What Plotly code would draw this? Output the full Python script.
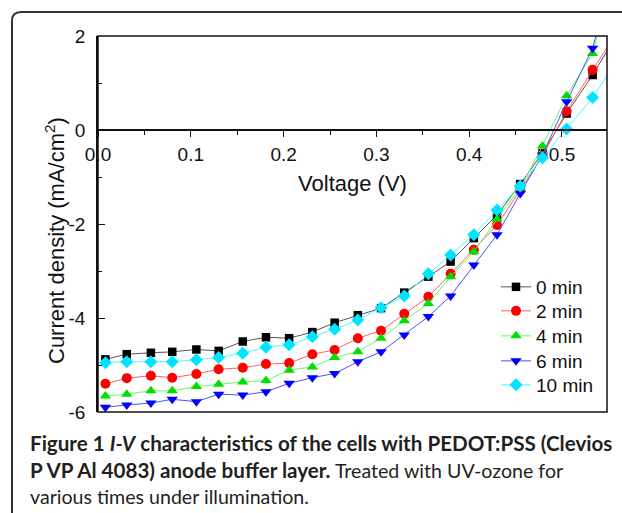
import plotly.graph_objects as go

# ---- data ----
voltage = [0.008, 0.031, 0.057, 0.080, 0.106, 0.130, 0.156, 0.181, 0.206, 0.231,
           0.255, 0.280, 0.305, 0.330, 0.356, 0.380, 0.405, 0.430, 0.455, 0.479,
           0.505, 0.533, 0.558]

j_0min = [-4.88, -4.77, -4.74, -4.72, -4.67, -4.70, -4.50, -4.41, -4.43, -4.30,
          -4.10, -3.94, -3.79, -3.46, -3.12, -2.80, -2.30, -1.81, -1.15, -0.49,
          0.35, 1.17, 1.99]
j_2min = [-5.40, -5.28, -5.23, -5.27, -5.19, -5.09, -5.06, -4.98, -4.96, -4.77,
          -4.68, -4.43, -4.27, -3.91, -3.55, -3.06, -2.55, -2.02, -1.28, -0.55,
          0.40, 1.28, 2.05]
j_4min = [-5.66, -5.62, -5.55, -5.55, -5.46, -5.41, -5.36, -5.33, -5.11, -5.04,
          -4.84, -4.72, -4.43, -4.06, -3.69, -3.12, -2.59, -1.90, -1.23, -0.34,
          0.73, 1.63, 3.50]
j_6min = [-5.90, -5.85, -5.81, -5.73, -5.78, -5.62, -5.64, -5.57, -5.39, -5.27,
          -5.18, -4.93, -4.72, -4.36, -3.97, -3.53, -2.87, -2.23, -1.35, -0.53,
          0.60, 1.74, 3.60]
j_10min = [-4.95, -4.93, -4.93, -4.93, -4.89, -4.84, -4.75, -4.62, -4.57, -4.40,
           -4.24, -4.04, -3.78, -3.53, -3.06, -2.66, -2.23, -1.70, -1.19, -0.59,
           0.02, 0.69, 1.44]

series_names = ["0 min", "2 min", "4 min", "6 min", "10 min"]
series_values = [j_0min, j_2min, j_4min, j_6min, j_10min]

x_ticks = [0.0, 0.1, 0.2, 0.3, 0.4, 0.5]
x_ticktext = ["0.0", "0.1", "0.2", "0.3", "0.4", "0.5"]
y_ticks = [-6, -4, -2, 0, 2]
y_ticktext = ["-6", "-4", "-2", "0", "2"]

# ---- styles ----
marker_colors = ["#000000", "#ff0000", "#00e000", "#0000ff", "#00e5ff"]
line_colors = ["#555555", "#ff6060", "#60ff60", "#5050ff", "#40ffff"]
symbols = ["square", "circle", "triangle-up", "triangle-down", "diamond"]
sizes = [8.5, 10, 10, 10, 10]
legend_rows_px = [287, 311, 336, 361, 385]

FONT = "Liberation Sans, Arial, sans-serif"
W, H = 622, 513
L, R, T, B = 98, 607, 36, 412  # plot area in pixels


def px(xp):
    return (xp - L) / (R - L)


def py(yp):
    return (B - yp) / (B - T)


fig = go.Figure()
legend_layout = {}
for i, (name, vals, mc, lc, sym, sz, ly) in enumerate(zip(
        series_names, series_values, marker_colors, line_colors, symbols, sizes,
        legend_rows_px)):
    lname = "legend" if i == 0 else f"legend{i + 1}"
    fig.add_trace(go.Scatter(
        x=voltage, y=vals, name=name, mode="lines+markers",
        line=dict(color=lc, width=1),
        marker=dict(color=mc, symbol=sym, size=sz, line=dict(width=0)),
        legend=lname,
    ))
    legend_layout[lname] = dict(
        x=px(496), y=py(ly), xanchor="left", yanchor="middle",
        bgcolor="rgba(0,0,0,0)", font=dict(size=19, family=FONT, color="#111111"),
        itemwidth=30,
    )

fig.update_layout(
    width=W, height=H,
    margin=dict(l=L, r=W - R, t=T, b=H - B, pad=0),
    paper_bgcolor="white", plot_bgcolor="white",
    font=dict(family=FONT, color="#111111", size=19),
    showlegend=True,
    xaxis=dict(range=[0, 0.5485], anchor="free", position=0.75,
               showline=True, linecolor="#111111", linewidth=1.5,
               showgrid=False, zeroline=False,
               tickvals=x_ticks, ticktext=x_ticktext,
               ticks="outside", ticklen=6, tickwidth=1.2, tickcolor="#111111",
               tickfont=dict(size=19), ticklabelstandoff=1,
               minor=dict(dtick=0.05, tick0=0, ticks="outside", ticklen=4,
                          tickwidth=1.2, tickcolor="#111111"),
               title=dict(text="Voltage (V)", font=dict(size=22), standoff=11)),
    yaxis=dict(range=[-6, 2], domain=[0, 1],
               showline=True, linecolor="#111111", linewidth=1.5,
               showgrid=False, zeroline=False,
               tickvals=y_ticks, ticktext=y_ticktext,
               ticks="inside", ticklen=7, tickwidth=1.2, tickcolor="#111111",
               tickfont=dict(size=19), ticklabelstandoff=7,
               minor=dict(dtick=1, tick0=0, ticks="inside", ticklen=4,
                          tickwidth=1.2, tickcolor="#111111")),
    **legend_layout,
)

# plot frame
fig.add_shape(type="rect", xref="x domain", yref="y domain", x0=0, x1=1, y0=0, y1=1,
              line=dict(color="#111111", width=1.5), layer="above")

# outer rounded figure frame (top and left edges)
r = 9
frame_path = (f"M {px(625)},{py(12)} L {px(12 + r)},{py(12)} "
              f"Q {px(12)},{py(12)} {px(12)},{py(12 + r)} L {px(12)},{py(520)}")
fig.add_shape(type="path", xref="paper", yref="paper", path=frame_path,
              line=dict(color="#333333", width=2))

# y axis title
fig.add_annotation(text="Current density (mA/cm<sup>2</sup>)", textangle=-90,
                   xref="paper", yref="paper", x=px(55), y=py(241),
                   xanchor="center", yanchor="middle",
                   showarrow=False, font=dict(size=22, family=FONT, color="#111111"))

# caption
CAP_FONT = "Lato, Open Sans, sans-serif"
cap_color = "#231f20"
BSPAN = '<span style="font-size:20.6px">'
caption_lines = [
    f"<b>{BSPAN}Figure 1 <i>I-V</i> characteristics of the cells with PEDOT:PSS (Clevios</span></b>",
    f"<b>{BSPAN}P VP Al 4083) anode buffer layer.</span></b> Treated with UV-ozone for",
    "various times under illumination.",
]
for i, line in enumerate(caption_lines):
    fig.add_annotation(text=line, xref="paper", yref="paper",
                       x=px(28), y=py(443 + 27 * i), xanchor="left", yanchor="middle",
                       showarrow=False, align="left",
                       font=dict(size=19.6, family=CAP_FONT, color=cap_color))

fig.write_html("out.html",
               config={"displayModeBar": False},
               post_script="document.body.style.margin='0';"
                           "document.body.style.overflow='hidden';")
